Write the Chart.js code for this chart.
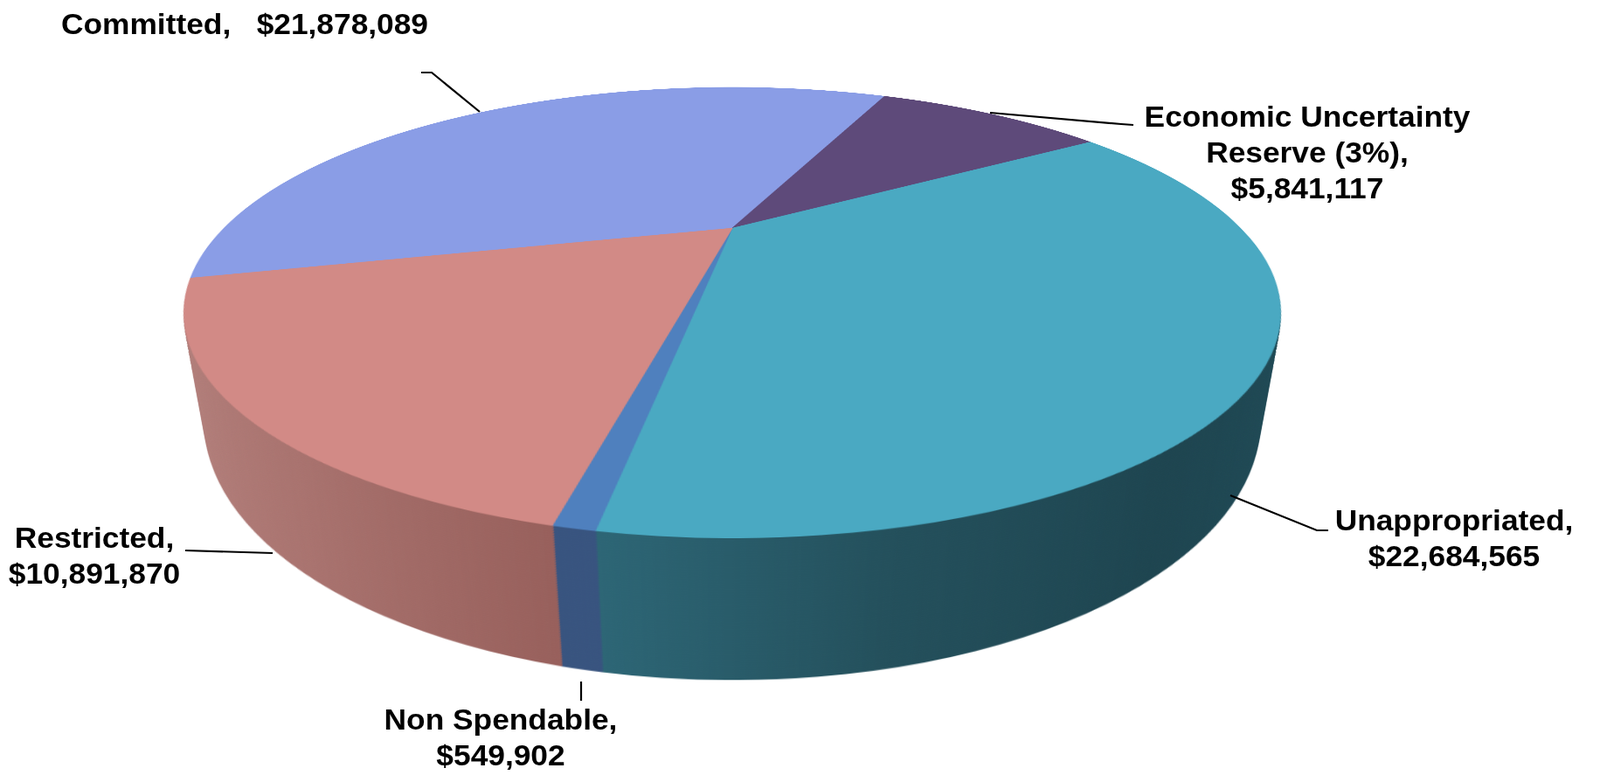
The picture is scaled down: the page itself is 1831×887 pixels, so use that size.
<!DOCTYPE html>
<html>
<head>
<meta charset="utf-8">
<script src="https://cdn.jsdelivr.net/npm/chart.js@4.4.1/dist/chart.umd.min.js"></script>
<style>
  html, body { margin: 0; padding: 0; background: #fff; }
  #stage { position: relative; width: 1831px; height: 887px; overflow: hidden; background: #fff; }
  #scene { position: absolute; left: 0; top: 0; width: 1831px; height: 887px; perspective: 1434px; perspective-origin: 838px 261px; }
  #pie { position: absolute; transform-style: preserve-3d; }
  .layer { position: absolute; left: 0; top: 0; }
  #hidden { position: absolute; left: -5000px; top: 0; }
  .lbl { position: absolute; font: bold 33px "Liberation Sans", Arial, sans-serif; line-height: 41px; color: #000; white-space: pre; }
  svg { position: absolute; left: 0; top: 0; }
</style>
</head>
<body>
<div id="stage">
  <div id="scene"><div id="pie"></div></div>
  <svg id="leaders" width="1831" height="887"></svg>
</div>
<div id="hidden"><canvas id="sideCanvas"></canvas></div>
<script>
// data
const labels = ['Committed', 'Economic Uncertainty\nReserve (3%)', 'Unappropriated', 'Non Spendable', 'Restricted'];
const values = [21878089, 5841117, 22684565, 549902, 10891870];

// colours: top face, and side wall (left -> right shading)
const topColors = ['#8a9de6', '#5e4a7a', '#4aa9c2', '#4f80be', '#d28a86'];
const sideColors = [
  ['#6e7fc2', '#6e7fc2'],
  ['#4a3a62', '#4a3a62'],
  ['#33727f', '#30707f', '#2e6878', '#24505c', '#1e4550', '#204b57'],
  ['#3a5682', '#36517c'],
  ['#b6837f', '#a9736f', '#975f5b', '#8f5c57', '#8c5a55', '#8c5a55']
];

// 3d look
const R = 582, TILT = 67.6, DEPTH = 129, LAYERS = 60, ROTATION = 256.4;
const APEX = [838, 261];

// label placement
const labelPos = [
  { x: 70, top: 7, align: 'left', sep: '   ' },
  { x: 1496, top: 113, align: 'center', sep: ',\n' },
  { x: 1664, top: 575, align: 'center', sep: '\n' },
  { x: 573, top: 803, align: 'center', sep: '\n' },
  { x: 108, top: 595, align: 'center', sep: '\n' }
];
const leaders = [
  [[482, 83], [494, 83], [549, 128]],
  [[1133, 129], [1283, 142], [1297, 143]],
  [[1408, 567], [1507, 607], [1520, 607]],
  [[665, 780], [665, 802]],
  [[212, 630], [312, 633]]
];

const pie = document.getElementById('pie');
pie.style.left = (APEX[0] - R) + 'px';
pie.style.top = (APEX[1] - R) + 'px';
pie.style.width = 2 * R + 'px';
pie.style.height = 2 * R + 'px';
pie.style.transform = `rotateX(${TILT}deg)`;

const baseOptions = {
  responsive: false,
  animation: false,
  events: [],
  rotation: ROTATION,
  layout: { padding: 0 },
  plugins: { legend: { display: false }, tooltip: { enabled: false } }
};

// horizontal shading for the side wall
function sideFill(c) {
  const i = c.dataIndex ?? 0;
  const area = c.chart.chartArea;
  const stops = sideColors[i];
  if (!area) return stops[0];
  const g = c.chart.ctx.createLinearGradient(area.left, 0, area.right, 0);
  stops.forEach((col, k) => g.addColorStop(k / (stops.length - 1), col));
  return g;
}

// side wall: same pie, dark shaded, stacked below the top face
const sideCanvas = document.getElementById('sideCanvas');
sideCanvas.width = 2 * R;
sideCanvas.height = 2 * R;
const sideChart = new Chart(sideCanvas, {
  type: 'pie',
  data: {
    labels,
    datasets: [{
      data: values,
      backgroundColor: sideFill,
      borderColor: sideFill,
      borderWidth: 1
    }]
  },
  options: { ...baseOptions, devicePixelRatio: 2 }
});
sideChart.draw();
const sideImg = sideCanvas.toDataURL('image/png');

for (let n = LAYERS; n >= 1; n--) {
  const img = document.createElement('img');
  img.className = 'layer';
  img.src = sideImg;
  img.style.width = 2 * R + 'px';
  img.style.height = 2 * R + 'px';
  img.style.transform = `translateZ(${-DEPTH * n / LAYERS}px)`;
  pie.appendChild(img);
}

// top face
const topWrap = document.createElement('div');
topWrap.className = 'layer';
topWrap.style.transform = 'translateZ(0px)';
const topCanvas = document.createElement('canvas');
topCanvas.width = 2 * R;
topCanvas.height = 2 * R;
topWrap.appendChild(topCanvas);
pie.appendChild(topWrap);

new Chart(topCanvas, {
  type: 'pie',
  data: {
    labels,
    datasets: [{
      data: values,
      backgroundColor: topColors,
      borderColor: topColors,
      borderWidth: 1
    }]
  },
  options: { ...baseOptions, devicePixelRatio: 2 }
});

// labels
const stage = document.getElementById('stage');
labels.forEach((name, i) => {
  const p = labelPos[i];
  const d = document.createElement('div');
  d.className = 'lbl';
  const money = '$' + values[i].toLocaleString('en-US');
  d.textContent = name + (p.sep === ',\n' ? p.sep : ',' + p.sep) + money;
  d.style.top = p.top + 'px';
  d.style.textAlign = p.align;
  d.style.left = p.x + 'px';
  if (p.align === 'left') {
    d.style.transformOrigin = '0 0';
    d.style.transform = 'scaleX(1.07)';
  } else {
    d.style.transform = 'translateX(-50%) scaleX(1.07)';
  }
  stage.appendChild(d);
});

// leader lines
const svg = document.getElementById('leaders');
leaders.forEach((pts) => {
  const pl = document.createElementNS('http://www.w3.org/2000/svg', 'polyline');
  pl.setAttribute('points', pts.map((q) => q.join(',')).join(' '));
  pl.setAttribute('fill', 'none');
  pl.setAttribute('stroke', '#000');
  pl.setAttribute('stroke-width', '2.2');
  svg.appendChild(pl);
});
</script>
</body>
</html>
